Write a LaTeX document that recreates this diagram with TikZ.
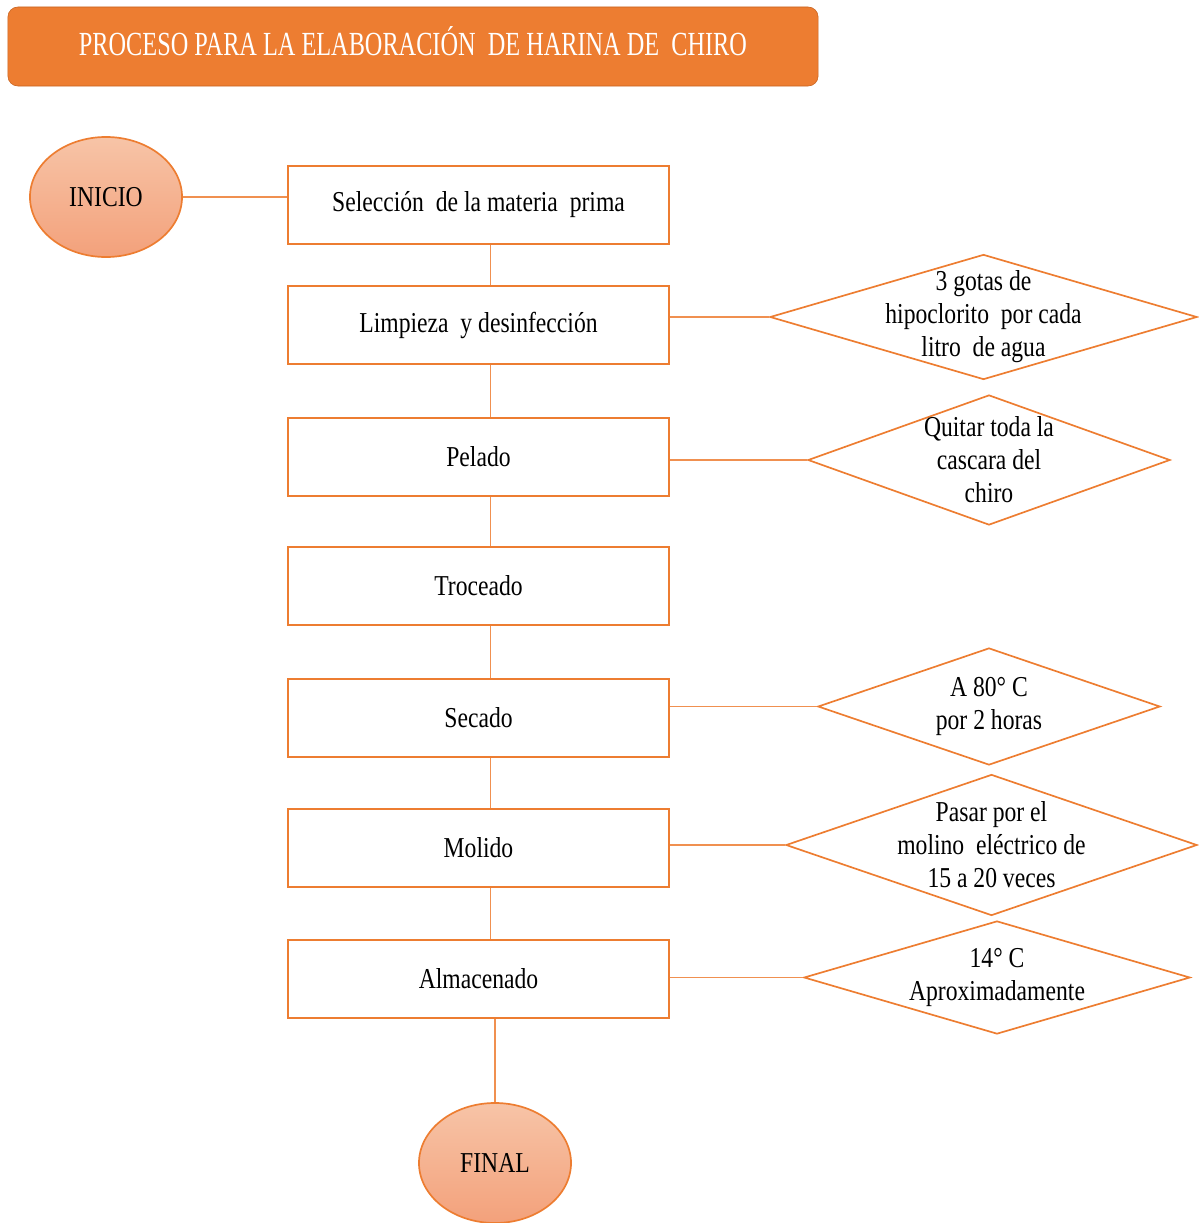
\documentclass[tikz,border=0pt]{standalone}
\usepackage{fontspec}
\setmainfont{Liberation Serif}
\newfontfamily\pasofont[FakeStretch=0.82]{Liberation Serif}
\newfontfamily\titulofont[FakeStretch=0.72]{Liberation Serif}
\usepackage{tikz}
\usetikzlibrary{shapes.geometric}
\definecolor{naranja}{HTML}{ED7D31}
\definecolor{naranjaosc}{HTML}{C8631F}
\definecolor{salmonclaro}{HTML}{F7C4A7}
\definecolor{salmon}{HTML}{F3A17B}
\tikzset{
  paso/.style={draw=naranja, line width=1.2pt, fill=white, minimum width=9.525cm,
    minimum height=1.95cm, font=\pasofont\fontsize{20.5}{23.5}\selectfont},
  extremo/.style={ellipse, draw=naranja, line width=1.2pt, top color=salmonclaro,
    bottom color=salmon, minimum width=3.8cm, minimum height=3cm,
    font=\pasofont\fontsize{20.5}{23.5}\selectfont},
  rombo/.style={diamond, draw=naranja, line width=1.2pt, inner sep=0pt},
  nota/.style={align=center, font=\pasofont\fontsize{20.5}{23.5}\selectfont},
  enlace/.style={draw=naranja!85, line width=1.2pt}
}

\begin{document}
\begin{tikzpicture}[x=0.025cm,y=-0.025cm]
\useasboundingbox (0,0) rectangle (1198,1223);
\node[draw=naranjaosc, fill=naranja, rounded corners=0.25cm, minimum width=20.25cm,
  minimum height=1.975cm, text=white, text height=16pt, text depth=3.8pt,
  font=\titulofont\fontsize{24}{28}\selectfont]
  (titulo) at (413,46.5) {PROCESO PARA LA ELABORACIÓN \ DE HARINA DE \ CHIRO};

\node[extremo] (inicio) at (106,197) {INICIO};
\node[extremo] (final) at (495,1163) {FINAL};

\node[paso] (p1) at (478.5,205) {Selección \ de la materia \ prima};
\node[paso] (p2) at (478.5,325) {Limpieza \ y desinfección};
\node[paso] (p3) at (478.5,457) {Pelado};
\node[paso] (p4) at (478.5,586) {Troceado};
\node[paso] (p5) at (478.5,718) {Secado};
\node[paso] (p6) at (478.5,848) {Molido};
\node[paso] (p7) at (478.5,979) {Almacenado};

\node[rombo, minimum width=10.675cm, minimum height=3.125cm] (d1) at (983.5,317) {};
\node[nota] (n1) at (d1) {3 gotas de\\hipoclorito \ por cada\\litro \ de agua};
\node[rombo, minimum width=9.05cm, minimum height=3.25cm] (d2) at (989,460) {};
\node[nota] (n2) at (d2) {Quitar toda la\\cascara del\\chiro};
\node[rombo, minimum width=8.55cm, minimum height=2.925cm] (d3) at (989,706.5) {};
\node[nota] (n3) at (d3) {A 80° C\\por 2 horas};
\node[rombo, minimum width=10.275cm, minimum height=3.525cm] (d4) at (991.5,845) {};
\node[nota] (n4) at (d4) {Pasar por el\\molino \ eléctrico de\\15 a 20 veces};
\node[rombo, minimum width=9.65cm, minimum height=2.825cm] (d5) at (997,977.5) {};
\node[nota] (n5) at (d5) {14° C\\Aproximadamente};

\draw[enlace] (inicio.east) -- (inicio.east -| p1.west);
\foreach \a/\b in {p1/p2,p2/p3,p3/p4,p4/p5,p5/p6,p6/p7}
  \draw[enlace] ([xshift=0.3cm]\a.south) -- ([xshift=0.3cm]\b.north);
\draw[enlace] (p7.south -| final.north) -- (final.north);

\draw[enlace] (d1.west -| p2.east) -- (d1.west);
\draw[enlace] (d2.west -| p3.east) -- (d2.west);
\draw[enlace] (d3.west -| p5.east) -- (d3.west);
\draw[enlace] (d4.west -| p6.east) -- (d4.west);
\draw[enlace] (d5.west -| p7.east) -- (d5.west);
\end{tikzpicture}
\end{document}
